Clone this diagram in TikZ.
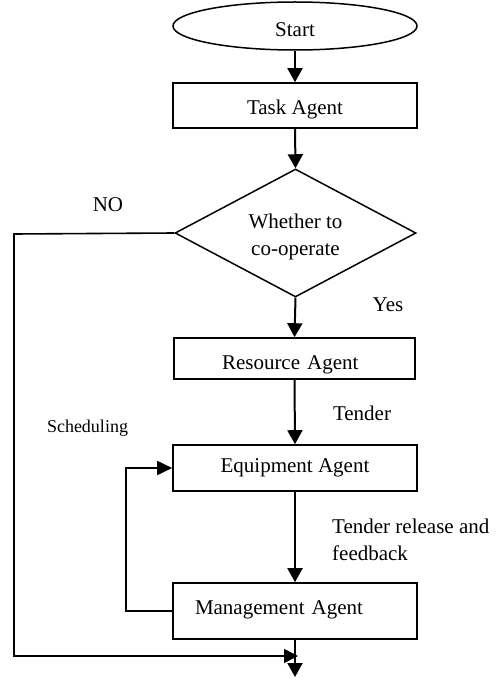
\documentclass[tikz,border=0pt]{standalone}
\usepackage{fontspec}
\setmainfont{Liberation Serif}
\usetikzlibrary{arrows.meta,shapes.geometric}
\tikzset{
  box/.style={draw, line width=1.6bp, minimum width=244bp, inner sep=0pt,
    font=\fontsize{21bp}{25bp}\selectfont},
  flow/.style={line width=2bp, -{Triangle[width=15bp,length=14bp]}},
  link/.style={line width=1.6bp},
  lbl/.style={font=\fontsize{21bp}{27bp}\selectfont, inner sep=0pt},
  smalllbl/.style={font=\fontsize{18bp}{22bp}\selectfont, inner sep=0pt}
}
\begin{document}
\begin{tikzpicture}[x=1bp,y=-1bp]
\useasboundingbox (0,0) rectangle (500,678);
% nodes
\node[draw, ellipse, line width=1.5bp, minimum width=244bp, minimum height=48bp,
  inner sep=0pt, text height=22bp, text depth=0pt,
  font=\fontsize{21bp}{25bp}\selectfont] (start) at (295,26) {Start};
\node[box, minimum height=45bp, text height=19bp, text depth=0pt] (task) at (295,105.5) {Task Agent};
\node[draw, diamond, line width=1.5bp, aspect=1.88, minimum width=241bp,
  minimum height=128bp, inner sep=0pt, align=center, text height=45bp, text depth=0pt,
  font=\fontsize{21bp}{27bp}\selectfont] (dec) at (295.5,233) {Whether to\\co-operate};
\node[box, minimum width=241bp, minimum height=41bp, inner xsep=48bp,
  text width=145bp, align=left, text height=21bp, text depth=0pt] (res) at (294.5,358.5) {Resource Agent};
\node[box, minimum height=46bp] (equip) at (295,468) {Equipment Agent};
\node[box, minimum height=56bp, inner xsep=22bp, text width=200bp,
  align=left, text height=14bp, text depth=8bp] (man) at (295,611) {Management Agent};
% free ends
\coordinate (endpt) at (295,677);
\coordinate (noA) at (14,234);
\coordinate (noB) at (14,656);
\coordinate (noC) at (298,656);
\coordinate (loopA) at (126,611);
\coordinate (loopB) at (126,468);
% connectors
\draw[flow] (start.south) -- (task.north);
\draw[flow] (task.south) -- (dec.north);
\draw[flow] (dec.south) -- (res.north);
\draw[flow] (res.south) -- (equip.north);
\draw[flow] (equip.south) -- (man.north);
\draw[flow] (man.south) -- (endpt);
\draw[link, -{Triangle[width=14bp,length=14bp]}] (dec.west) -- (noA) -- (noB) -- (noC);
\draw[link, line width=1.8bp, -{Triangle[width=14bp,length=15bp]}] (man.west) -- (loopA) -- (loopB) -- (equip.west);
% labels
\node[lbl] (no) at (108,205) {NO};
\node[lbl] (yes) at (388,305) {Yes};
\node[lbl] (tender) at (362,413) {Tender};
\node[smalllbl] (sched) at (87.5,428) {Scheduling};
\node[lbl, anchor=west, align=left] (trf) at (332,539.5) {Tender release and\\feedback};
\end{tikzpicture}
\end{document}
